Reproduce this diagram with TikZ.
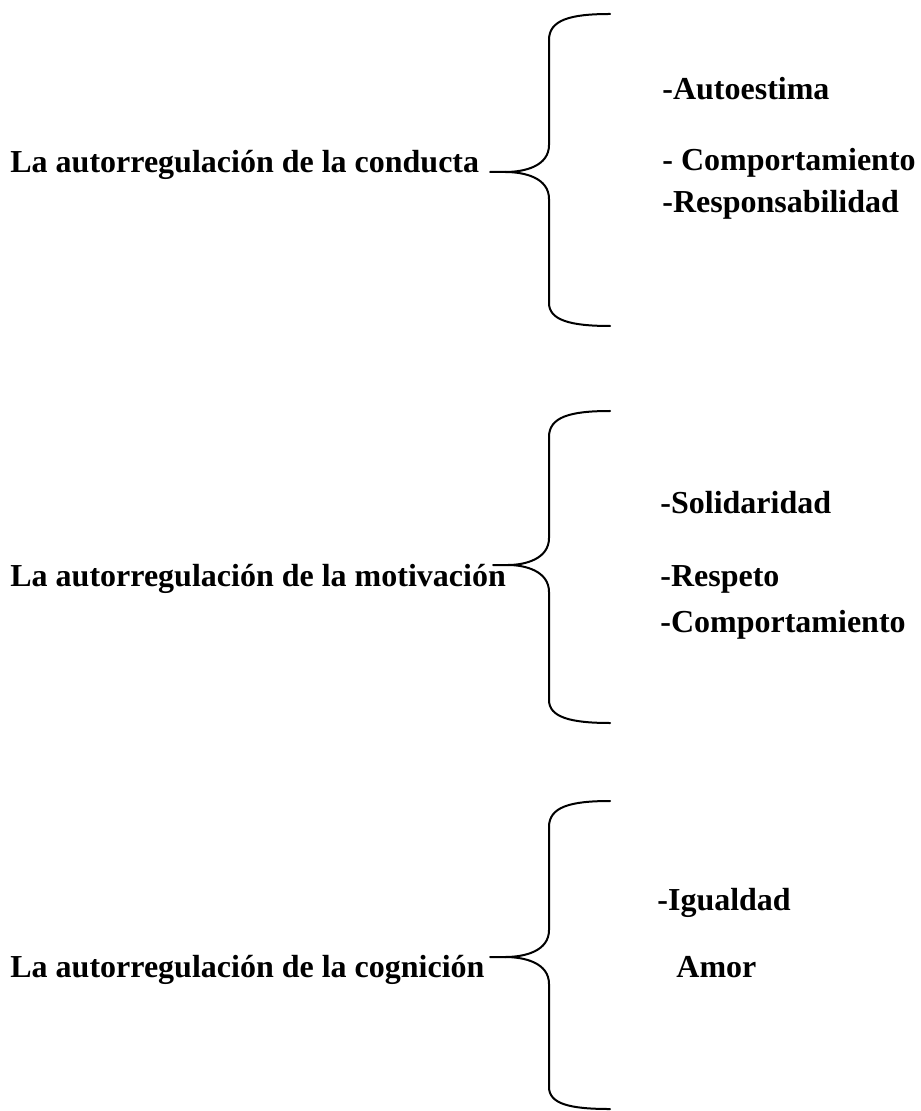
\documentclass[tikz,border=0pt]{standalone}
\usepackage{fontspec}
\setmainfont{Liberation Serif}
\definecolor{ink}{HTML}{000000}
\tikzset{
  titulo/.style={
    anchor=base west,
    inner sep=0pt,
    text=ink,
    font=\fontsize{16}{19}\selectfont\bfseries
  },
  item/.style={
    titulo
  },
  llave/.style={
    draw=ink,
    line width=1pt,
    line cap=round
  }
}
\begin{document}
\begin{tikzpicture}[x=0.5pt,y=-0.5pt]
  \useasboundingbox (0,0) rectangle (920,1111);

  % primer bloque
  \node[titulo] (conducta) at (10,173) {La autorregulación de la conducta};
  \node[item] (autoestima) at (662,100) {-Autoestima};
  \node[item] (comporta) at (662,171) {- Comportamiento};
  \node[item] (respons) at (662,213) {-Responsabilidad};
  \coordinate (punta1) at (490,172);
  \draw[llave] (610,14) .. controls (570,14) and (549,20) .. (549,40)
    -- (549,145) .. controls (549,166) and (525,172) .. (505,172) -- (punta1);
  \draw[llave] (505,172) .. controls (525,172) and (549,178) .. (549,199)
    -- (549,303) .. controls (549,320) and (570,326) .. (610,326);

  % segundo bloque
  \node[titulo] (motivacion) at (10,586) {La autorregulación de la motivación};
  \node[item] (solidaridad) at (660,513) {-Solidaridad};
  \node[item] (respeto) at (660,586) {-Respeto};
  \node[item] (comporta2) at (660,632) {-Comportamiento};
  \coordinate (punta2) at (493,565);
  \draw[llave] (610,411) .. controls (570,411) and (549,417) .. (549,437)
    -- (549,538) .. controls (549,559) and (525,565) .. (508,565) -- (punta2);
  \draw[llave] (508,565) .. controls (525,565) and (549,571) .. (549,592)
    -- (549,700) .. controls (549,717) and (570,723) .. (610,723);

  % tercer bloque
  \node[titulo] (cognicion) at (10,977) {La autorregulación de la cognición};
  \node[item] (igualdad) at (657,910) {-Igualdad};
  \node[item] (amor) at (676,977) {Amor};
  \coordinate (punta3) at (490,957);
  \draw[llave] (610,801) .. controls (570,801) and (549,807) .. (549,827)
    -- (549,930) .. controls (549,951) and (525,957) .. (505,957) -- (punta3);
  \draw[llave] (505,957) .. controls (525,957) and (549,963) .. (549,984)
    -- (549,1087) .. controls (549,1104) and (570,1109) .. (610,1109);
\end{tikzpicture}
\end{document}
